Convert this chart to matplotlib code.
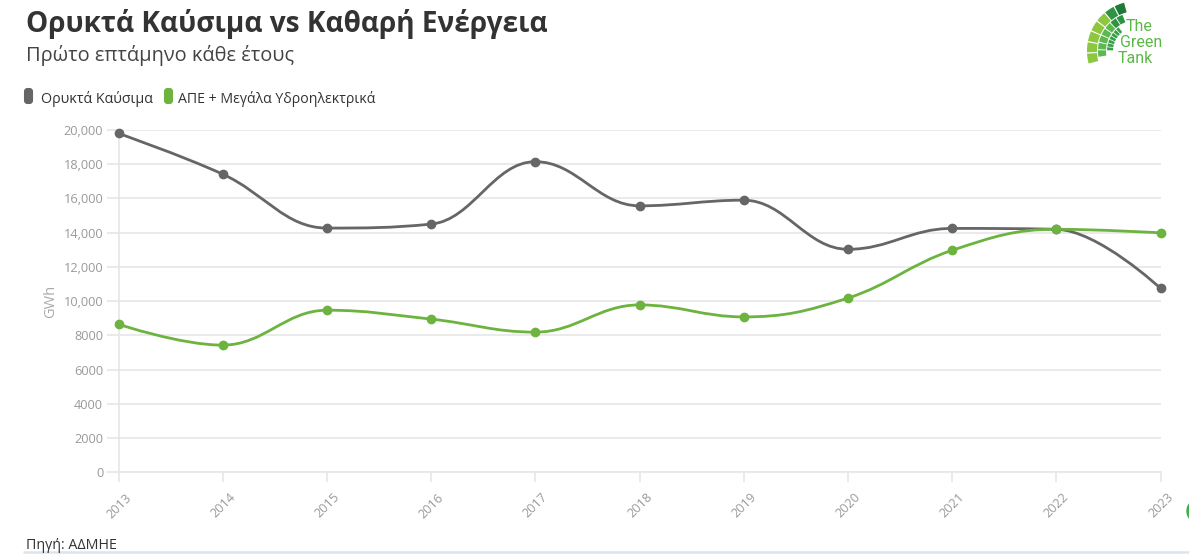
import numpy as np
import matplotlib
matplotlib.use('Agg')
import matplotlib.pyplot as plt
import matplotlib.transforms as mtransforms
from matplotlib import font_manager
from matplotlib.path import Path
from matplotlib.patches import PathPatch, FancyBboxPatch, Wedge, Circle
from matplotlib.ticker import FixedLocator, FuncFormatter

plt.rcParams['font.family'] = ['Open Sans', 'DejaVu Sans']

# data (GWh, first seven months of each year)
years = [2013, 2014, 2015, 2016, 2017, 2018, 2019, 2020, 2021, 2022, 2023]
fossil = [19800, 17420, 14270, 14500, 18150, 15570, 15900, 13030, 14250, 14200, 10750]
clean = [8650, 7430, 9470, 8950, 8190, 9780, 9080, 10180, 12970, 14200, 13990]
y_ticks = [0, 2000, 4000, 6000, 8000, 10000, 12000, 14000, 16000, 18000, 20000]

title = 'Ορυκτά Καύσιμα vs Καθαρή Ενέργεια'
subtitle = 'Πρώτο επτάμηνο κάθε έτους'
series_names = ['Ορυκτά Καύσιμα', 'ΑΠΕ + Μεγάλα Υδροηλεκτρικά']
series_colors = ['#666666', '#6db33f']
source = 'Πηγή: ΑΔΜΗΕ'

W, H = 1189, 554
GRID = '#e6e6e6'
LABEL = '#999999'

installed = {f.name for f in font_manager.fontManager.ttflist}
narrow = 'Liberation Sans Narrow' if 'Liberation Sans Narrow' in installed else 'Roboto'


def spline_path(xs, ys, smoothing=1.5):
    """cubic spline like highcharts 'spline' series"""
    n = len(xs)
    left = [None] * n
    right = [None] * n
    denom = smoothing + 1
    for i in range(1, n - 1):
        x, y = xs[i], ys[i]
        lx, ly = xs[i - 1], ys[i - 1]
        nx, ny = xs[i + 1], ys[i + 1]
        lcx = (smoothing * x + lx) / denom
        lcy = (smoothing * y + ly) / denom
        rcx = (smoothing * x + nx) / denom
        rcy = (smoothing * y + ny) / denom
        corr = (rcy - lcy) * (rcx - x) / (rcx - lcx) + y - rcy
        lcy += corr
        rcy += corr
        if lcy > ly and lcy > y:
            lcy = max(ly, y); rcy = 2 * y - lcy
        elif lcy < ly and lcy < y:
            lcy = min(ly, y); rcy = 2 * y - lcy
        if rcy > ny and rcy > y:
            rcy = max(ny, y); lcy = 2 * y - rcy
        elif rcy < ny and rcy < y:
            rcy = min(ny, y); lcy = 2 * y - rcy
        left[i] = (lcx, lcy)
        right[i] = (rcx, rcy)
    verts = [(xs[0], ys[0])]
    codes = [Path.MOVETO]
    for i in range(1, n):
        c1 = right[i - 1] or (xs[i - 1], ys[i - 1])
        c2 = left[i] or (xs[i], ys[i])
        verts += [c1, c2, (xs[i], ys[i])]
        codes += [Path.CURVE4] * 3
    return Path(verts, codes)


fig = plt.figure(figsize=(W / 100, H / 100), dpi=100)
fig.patch.set_facecolor('white')

# background axes in pixel coordinates for the decoration
bg = fig.add_axes([0, 0, 1, 1], zorder=0)
bg.set_xlim(0, W)
bg.set_ylim(H, 0)
bg.axis('off')

renderer = fig.canvas.get_renderer()


def put_text(x, y, s, width=None, **kw):
    t = bg.text(x, y, s, **kw)
    if width:
        bb = t.get_window_extent(renderer)
        t.set_fontsize(t.get_fontsize() * width / bb.width)
    return t


put_text(26, 32, title, width=522, fontsize=20, fontweight='bold', color='#333333', va='baseline')
put_text(26, 61, subtitle, width=267, fontsize=13, color='#444444', va='baseline')

# legend
leg_x = [(23, 41, 112), (163, 178, 197)]
for (bx, tx, tw), name, col in zip(leg_x, series_names, series_colors):
    bg.add_patch(FancyBboxPatch((bx + 2, 89), 7, 14, boxstyle='round,pad=0,rounding_size=2.5',
                                facecolor=col, edgecolor=col, lw=1.5))
    put_text(tx, 103, name, width=tw, fontsize=10, color='#333333', va='baseline')

put_text(26, 549, source, width=91, fontsize=10, color='#333333', va='baseline')
bg.plot([23, W], [552, 552], color='#dde5eb', lw=1.8, solid_capstyle='butt')
bg.add_patch(Circle((1199, 511), 12, color='#3fae49'))

# logo: fan of green cells, three rings
cx, cy = 1137, 51
rings = [
    (50, 10, 105, 196, '#8dc63f'),
    (39, 8, 112, 190, '#5cb84f'),
    (30, 6, 128, 180, '#38a046'),
]
for r, w, a_start, a_end, col in rings:
    step = (a_end - a_start) / 7
    for k in range(7):
        a0 = a_start + k * step
        c = col
        if a0 < 125:
            c = '#2f9344'
        if a0 < 112:
            c = '#1d7a38'
        # y axis of bg is inverted, so mirror the angles
        bg.add_patch(Wedge((cx, cy), r, -(a0 + step - 1.5), -a0, width=w,
                           facecolor=c, edgecolor='none'))
put_text(1126, 31, 'The', fontsize=11.5, family=narrow, color='#5cb848', va='baseline')
put_text(1120, 47, 'Green', fontsize=11.5, family=narrow, color='#5cb848', va='baseline')
put_text(1118, 63, 'Tank', fontsize=11.5, family=narrow, color='#5cb848', va='baseline')

# chart
left, right, top, bottom = 118.5, 1160.5, 130, 472.3
ax = fig.add_axes([left / W, 1 - bottom / H, (right - left) / W, (bottom - top) / H], zorder=1)
ax.patch.set_alpha(0)
ax.set_xlim(years[0], years[-1])
ax.set_ylim(0, 20000)

for vals, col in zip([fossil, clean], series_colors):
    ax.add_patch(PathPatch(spline_path(years, vals), facecolor='none', edgecolor=col,
                           lw=2.0, clip_on=False, zorder=3))
    ax.plot(years, vals, 'o', color=col, ms=6, clip_on=False, zorder=4)

ax.yaxis.set_major_locator(FixedLocator(y_ticks))
ax.yaxis.set_major_formatter(FuncFormatter(lambda v, p: f'{int(v):,}' if v >= 10000 else f'{int(v)}'))
ax.grid(axis='y', color=GRID, lw=1.2)
ax.set_axisbelow(True)
ax.tick_params(axis='y', length=9, width=1.2, color=GRID, labelcolor=LABEL, labelsize=9.2, pad=2)

ax.xaxis.set_major_locator(FixedLocator(years))
ax.set_xticklabels([str(y) for y in years])
ax.tick_params(axis='x', length=7, width=1.2, color=GRID, labelcolor=LABEL, labelsize=9.2, pad=2)
offset = mtransforms.ScaledTranslation(6 / 100, -6 / 100, fig.dpi_scale_trans)
for lab in ax.get_xticklabels():
    lab.set_rotation(45)
    lab.set_ha('right')
    lab.set_va('top')
    lab.set_rotation_mode('anchor')
    lab.set_transform(lab.get_transform() + offset)

for s in ['top', 'right']:
    ax.spines[s].set_visible(False)
ax.spines['left'].set_color(GRID)
ax.spines['bottom'].set_color(GRID)
ax.spines['left'].set_linewidth(1.2)
ax.spines['bottom'].set_linewidth(1.2)

ax.set_ylabel('GWh', color='#aaaaaa', fontsize=10.5, labelpad=4)

fig.savefig('out.png', dpi=100)
